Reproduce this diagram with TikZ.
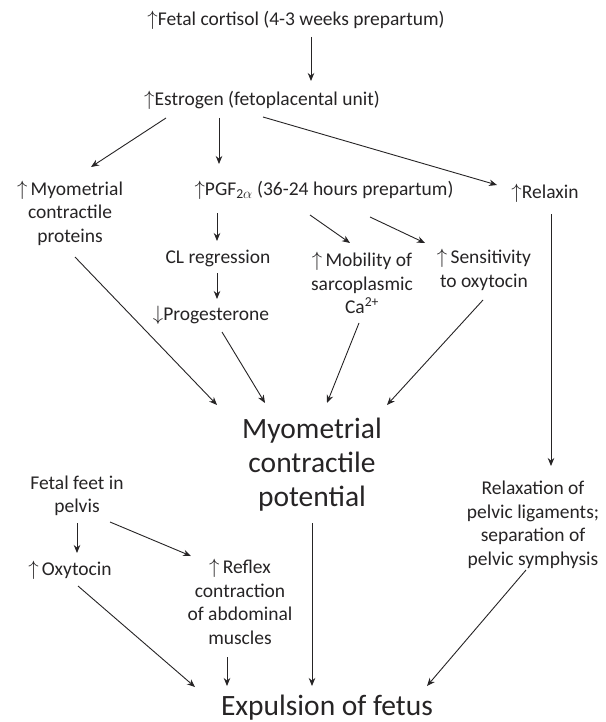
\documentclass[tikz,border=0pt]{standalone}
\usepackage{fontspec}
\setmainfont{Carlito}
\usetikzlibrary{arrows.meta}
\newcommand{\up}{$\uparrow$}
\newcommand{\down}{$\downarrow$}
\begin{document}
\begin{tikzpicture}[x=1pt,y=-1pt,
  lbl/.style={inner sep=0pt,align=center,text=ink,font=\fontsize{19.5}{23.5}\selectfont},
  big/.style={inner sep=0pt,align=center,text=ink,font=\fontsize{29.5}{34}\selectfont},
  arr/.style={draw=ink,line width=0.9pt,-{Stealth[length=8pt,width=6.5pt]}}]
\definecolor{ink}{HTML}{262425}
\useasboundingbox[fill=white] (0,0) rectangle (605,722);

% nodes
\node[lbl] (cort)   at (296,20)  {\up Fetal cortisol (4-3 weeks prepartum)};
\node[lbl] (estr)   at (262,100) {\up Estrogen (fetoplacental unit)};
\node[lbl] (myo)    at (70,213)  {\up\,Myometrial\\contractile\\proteins};
\node[lbl] (pgf)    at (324,190) {\up PGF\textsubscript{2$\alpha$} (36-24 hours prepartum)};
\node[lbl] (relax)  at (545,193) {\up Relaxin};
\node[lbl] (cl)     at (218,258) {CL regression};
\node[lbl] (prog)   at (211,315) {\down Progesterone};
\node[lbl] (mob)    at (362,283) {\up\,Mobility of\\sarcoplasmic\\Ca\textsuperscript{2+}};
\node[lbl] (sens)   at (484,270) {\up\,Sensitivity\\to oxytocin};
\node[big] (pot)    at (312,465) {Myometrial\\contractile\\potential};
\node[lbl] (relaxn) at (533,525) {Relaxation of\\pelvic ligaments;\\separation of\\pelvic symphysis};
\node[lbl] (feet)   at (77,496)  {Fetal feet in\\pelvis};
\node[lbl] (oxy)    at (70,570)  {\up\,Oxytocin};
\node[lbl] (reflex) at (240,602) {\up\,Reflex\\contraction\\of abdominal\\muscles};
\node[big] (expul)  at (327,708) {Expulsion of fetus};

% connectors
\draw[arr] ([shift={(15,17)}]cort.center)  -- ([shift={(49,-19)}]estr.center);
\draw[arr] ([shift={(-96,18)}]estr.center) -- ([shift={(21,-46)}]myo.center);
\draw[arr] ([shift={(-43,18)}]estr.center) -- ([shift={(-105,-26)}]pgf.center);
\draw[arr] ([shift={(1,17)}]estr.center)   -- ([shift={(-48,-8)}]relax.center);
\draw[arr] ([shift={(-107,23)}]pgf.center) -- ([shift={(-1,-17)}]cl.center);
\draw[arr] ([shift={(-1,15)}]cl.center)    -- ([shift={(6,-16)}]prog.center);
\draw[arr] ([shift={(-14,25)}]pgf.center)  -- ([shift={(-12,-40)}]mob.center);
\draw[arr] ([shift={(46,27)}]pgf.center)   -- ([shift={(-59,-27)}]sens.center);
\draw[arr] ([shift={(5,44)}]myo.center)    -- ([shift={(-95,-60)}]pot.center);
\draw[arr] ([shift={(11,17)}]prog.center)  -- ([shift={(-47,-62)}]pot.center);
\draw[arr] ([shift={(-3,40)}]mob.center)   -- ([shift={(15,-62)}]pot.center);
\draw[arr] ([shift={(-1,30)}]sens.center)  -- ([shift={(75,-60)}]pot.center);
\draw[arr] ([shift={(6,21)}]relax.center)  -- ([shift={(18,-59)}]relaxn.center);
\draw[arr] ([shift={(0,27)}]feet.center)   -- ([shift={(7,-17)}]oxy.center);
\draw[arr] ([shift={(33,26)}]feet.center)  -- ([shift={(-49,-46)}]reflex.center);
\draw[arr] ([shift={(8,16)}]oxy.center)    -- ([shift={(-132,-21)}]expul.center);
\draw[arr] ([shift={(-13,55)}]reflex.center) -- ([shift={(-100,-22)}]expul.center);
\draw[arr] ([shift={(0,58)}]pot.center)    -- ([shift={(-15,-22)}]expul.center);
\draw[arr] ([shift={(-7,45)}]relaxn.center) -- ([shift={(100,-22)}]expul.center);
\end{tikzpicture}
\end{document}
